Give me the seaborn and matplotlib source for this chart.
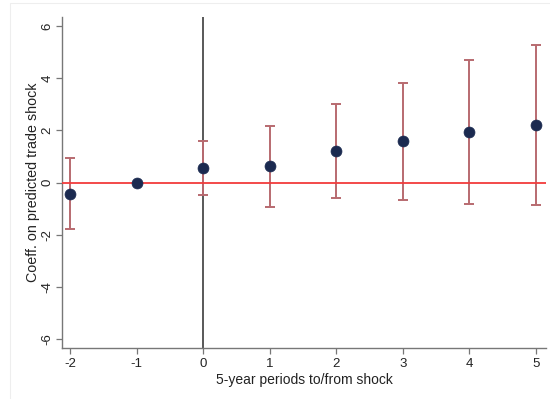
import matplotlib
matplotlib.use("Agg")
import matplotlib.pyplot as plt
import matplotlib.patches as mpatches
import numpy as np
import pandas as pd
import seaborn as sns

# Event-study coefficients by 5-year period relative to the shock
periods = [-2, -1, 0, 1, 2, 3, 4, 5]
coef = [-0.43, 0.0, 0.56, 0.62, 1.21, 1.58, 1.95, 2.21]
ci_low = [-1.79, 0.0, -0.46, -0.93, -0.61, -0.66, -0.81, -0.85]
ci_high = [0.92, 0.0, 1.60, 2.15, 3.02, 3.82, 4.71, 5.28]
x_ticks = [-2, -1, 0, 1, 2, 3, 4, 5]
y_ticks = [-6, -4, -2, 0, 2, 4, 6]

df = pd.DataFrame({"period": periods, "coef": coef, "lo": ci_low, "hi": ci_high})

sns.set_style("ticks")
plt.rcParams["font.family"] = ["Liberation Sans", "DejaVu Sans"]

fig = plt.figure(figsize=(5.5, 3.99), dpi=100)
fig.patch.set_facecolor("white")
# faint outer graph-region frame
fig.add_artist(mpatches.Rectangle((10 / 550, -0.01), 1.0, 1 - 3 / 399 + 0.01,
                                  transform=fig.transFigure, fill=False,
                                  edgecolor="#eeeeee", linewidth=0.8))

ax = fig.add_axes([62 / 550, 51 / 399, 484 / 550, 331 / 399])

# reference lines
ax.axvline(0, color="#2b2b2b", linewidth=1.1, zorder=1)

# confidence intervals (skip the omitted period)
ci = df[df["period"] != -1]
ax.errorbar(ci["period"], ci["coef"],
            yerr=[ci["coef"] - ci["lo"], ci["hi"] - ci["coef"]],
            fmt="none", ecolor="#b86a70", elinewidth=1.4, capsize=3.5,
            capthick=1.4, zorder=2)

ax.axhline(0, color="#f23b3b", linewidth=1.3, zorder=3)

sns.scatterplot(data=df, x="period", y="coef", ax=ax, color="#1b2a50",
                s=62, edgecolor="#1b2a50", linewidth=0.5, zorder=4, legend=False)

ax.set_xlim(-2.12, 5.15)
ax.set_ylim(-6.34, 6.34)
ax.set_xticks(x_ticks)
ax.set_xticklabels([str(t) for t in x_ticks])
ax.set_yticks(y_ticks)
ax.set_yticklabels([str(t) for t in y_ticks], rotation=90, va="center")

ax.set_xlabel("5-year periods to/from shock", fontsize=10, color="#222222", labelpad=2)
ax.set_ylabel("Coeff. on predicted trade shock", fontsize=10.3, color="#222222", labelpad=1.5)

for side in ["top", "right"]:
    ax.spines[side].set_visible(False)
for side in ["left", "bottom"]:
    ax.spines[side].set_color("#777777")
    ax.spines[side].set_linewidth(1.0)
ax.tick_params(axis="both", direction="out", length=4.5, width=0.9, color="#777777",
               labelsize=9.5, labelcolor="#222222")
ax.tick_params(axis="y", pad=1.5)
ax.tick_params(axis="x", pad=3)

fig.savefig("out.png", dpi=100, facecolor="white")
